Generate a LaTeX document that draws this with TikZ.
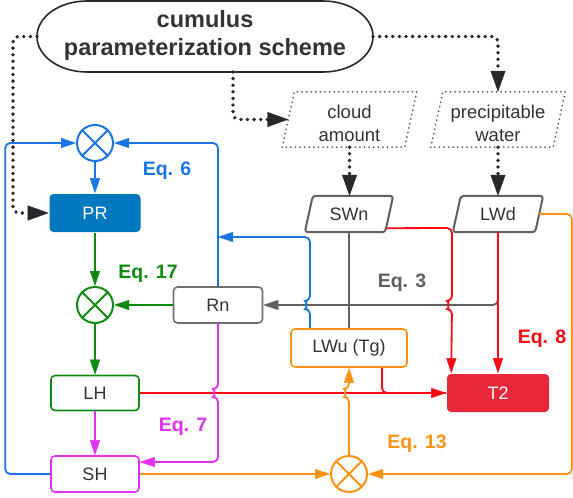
\documentclass[tikz,border=0pt]{standalone}
\usepackage{fontspec}
\setmainfont{Liberation Sans}
\usetikzlibrary{arrows.meta,calc}

\definecolor{cBlue}{RGB}{24,118,228}
\definecolor{cPR}{RGB}{2,120,190}
\definecolor{cGreen}{RGB}{16,138,16}
\definecolor{cMag}{RGB}{224,48,240}
\definecolor{cRed}{RGB}{250,10,20}
\definecolor{cT2}{RGB}{232,40,58}
\definecolor{cOrange}{RGB}{255,146,20}
\definecolor{cGray}{RGB}{96,96,96}
\definecolor{cDark}{RGB}{40,40,44}
\definecolor{cText}{RGB}{51,51,51}

\begin{document}
\begin{tikzpicture}[x=1pt,y=-1pt,
  font=\fontsize{18}{22}\selectfont, text=cText,
  box/.style={rectangle, rounded corners=4pt, line width=1.6pt, fill=white,
    minimum width=88pt, minimum height=36pt, inner sep=0pt},
  xnode/.style={circle, line width=2pt, minimum size=36pt, inner sep=0pt, fill=white},
  plain/.style={rectangle, inner sep=0pt, align=center},
  wire/.style={line width=1.8pt, rounded corners=5pt},
  arr/.style={-{Triangle[length=15pt,width=10pt,line width=0.4pt]}},
  dk/.style={draw=cDark, line width=3.8pt, line cap=round, rounded corners=6pt,
    dash pattern=on 0pt off 6.6pt,
    -{Triangle[length=21pt,width=15pt,line width=0.4pt,fill=cDark]}},
  pd/.style={draw=cGray, line width=2pt, line cap=round, dash pattern=on 0pt off 4.6pt},
  pg/.style={draw=cGray, line width=2pt, rounded corners=3pt},
  eq/.style={font=\fontsize{19.5}{22}\selectfont\bfseries}
]
\useasboundingbox (0,0) rectangle (573,498);

% scheme terminal with elliptical ends
\draw[line width=1.6pt, cDark, fill=white]
  (87,1) -- (323,1) arc[start angle=90,end angle=-90,x radius=50pt,y radius=35.5pt]
  -- (87,72) arc[start angle=270,end angle=90,x radius=50pt,y radius=35.5pt] -- cycle;
\node[plain, minimum width=336pt, minimum height=71pt,
  font=\fontsize{23.5}{28}\selectfont\bfseries] (title) at (205,35)
  {cumulus\\parameterization scheme};
\coordinate (tw) at (37,36.5);
\coordinate (te) at (373,36.5);
\coordinate (ts) at (233,72);

% input parallelograms (frames, then their text)
\node[plain, minimum width=122pt, minimum height=55pt] (cloud) at (349.5,119.5) {};
\node[plain, minimum width=122pt, minimum height=55pt] (prec) at (498,119.5) {};
\foreach \p in {cloud,prec}
  \draw[pd] ([xshift=-6pt]\p.south west) -- ([xshift=6pt]\p.north west)
    -- ([xshift=6pt]\p.north east) -- ([xshift=-6pt]\p.south east) -- cycle;
\node[plain, font=\fontsize{18.5}{23}\selectfont] (cloudt) at (349.5,123) {cloud\\amount};
\node[plain, font=\fontsize{18.5}{23}\selectfont] (prect) at (498,123) {precipitable\\water};

\node[plain, minimum width=80pt, minimum height=36pt] (SWn) at (349,214) {SWn};
\node[plain, minimum width=82pt, minimum height=36pt] (LWd) at (498,214) {LWd};
\foreach \p in {SWn,LWd}
  \draw[pg] ([xshift=-4pt]\p.south west) -- ([xshift=4pt]\p.north west)
    -- ([xshift=4pt]\p.north east) -- ([xshift=-4pt]\p.south east) -- cycle;

% boxes
\node[box, fill=cPR, minimum width=91pt, minimum height=38pt, text=white] (PR) at (95,213) {PR};
\node[box, draw=cGray!90, minimum width=89pt] (Rn) at (218,305) {Rn};
\node[box, draw=cGreen, minimum height=35pt] (LH) at (95,393) {LH};
\node[box, draw=cMag] (SH) at (95,474) {SH};
\node[box, draw=cOrange, minimum width=116pt, minimum height=38pt] (LWu) at (349,348) {LWu (Tg)};
\node[box, fill=cT2, minimum width=102pt, minimum height=38pt, text=white] (T2) at (498,393) {T2};

% multiplication junctions
\node[xnode, draw=cBlue] (cb) at (95,143) {};
\node[xnode, draw=cGreen] (cg) at (95,305) {};
\node[xnode, draw=cOrange] (co) at (349,474) {};
\foreach \c/\col in {cb/cBlue,cg/cGreen,co/cOrange}
  \draw[\col, line width=2pt] (\c.north west) -- (\c.south east)
    (\c.north east) -- (\c.south west);

% named bend points
\coordinate (bj) at (218,237);
\coordinate (t2a) at ([xshift=5pt]T2.north west);
\coordinate (oc) at (572,474);

% scheme outputs
\draw[dk] (tw) -- ++(-24,0) |- (PR.west);
\draw[dk] (ts) |- (cloud.west);
\draw[dk] (te) -| (prec.north);
\draw[dk] (cloud.south) -- (cloud.south |- SWn.north);
\draw[dk] (prec.south) -- (LWd.north);

% Eq. 3: net radiation
\draw[wire, cGray, arr] (LWd.south) |- (Rn.east);
\draw[wire, cGray] (SWn.south) -- (LWu.north);

% Eq. 6: precipitation
\draw[wire, cBlue, arr] (SH.west) -- ++(-45,0) |- (cb.west);
\draw[wire, cBlue, arr] (Rn.north) |- (cb.east);
\draw[wire, cBlue, arr] ([xshift=-39pt]LWu.north) -- (310,309)
  arc[start angle=270,end angle=90,radius=4pt] -- (310,237) -- (bj);
\draw[wire, cBlue, arr] (cb.south) -- (PR.north);

% Eq. 17: latent heat
\draw[wire, cGreen, arr] (PR.south) -- (cg.north);
\draw[wire, cGreen, arr] (Rn.west) -- (cg.east);
\draw[wire, cGreen, arr] (cg.south) -- (LH.north);

% Eq. 8: 2 m temperature
\draw[wire, cRed, arr] ([xshift=-3pt,yshift=4pt]SWn.south east) -- (452,228) -- (452,301)
  arc[start angle=90,end angle=270,radius=4pt] -- (t2a);
\draw[wire, cRed, arr] (LWd.south) -- (LWd.south |- T2.north);
\draw[wire, cRed] ([xshift=33pt]LWu.south) |- (T2.west);
\draw[wire, cRed, arr] (LH.east) -- (T2.west);

% Eq. 7: sensible heat
\draw[wire, cMag, arr] (LH.south) -- (SH.north);
\draw[wire, cMag, arr] (Rn.south) -- (218,389)
  arc[start angle=90,end angle=270,radius=4pt] -- (218,462) -- ([yshift=12pt]SH.east);

% Eq. 13: upward longwave
\draw[wire, cOrange, arr] (LWd.east) -| (oc) -- (co.east);
\draw[wire, cOrange, arr] (SH.east) -- (co.west);
\draw[wire, cOrange, arr] (co.north) -- (349,397)
  arc[start angle=270,end angle=90,radius=4pt] -- (LWu.south);

% equation labels
\node[eq, text=cBlue] (e6) at (167,171) {Eq. 6};
\node[eq, text=cGreen] (e17) at (148,274) {Eq. 17};
\node[eq, text=cGray] (e3) at (402,283) {Eq. 3};
\node[eq, text=cRed] (e8) at (542,339) {Eq. 8};
\node[eq, text=cMag] (e7) at (183,427) {Eq. 7};
\node[eq, text=cOrange] (e13) at (417,444) {Eq. 13};
\end{tikzpicture}
\end{document}
